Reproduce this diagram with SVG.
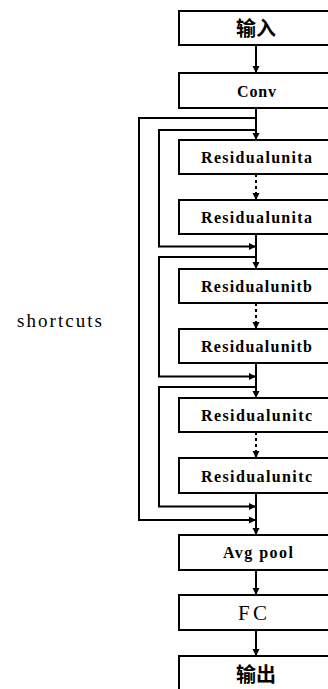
<svg xmlns="http://www.w3.org/2000/svg" width="328" height="689" viewBox="0 0 328 689">
  <style>
    .box { fill: #fff; stroke: #000; stroke-width: 2; }
    .wire { fill: none; stroke: #000; stroke-width: 2; }
    .dot { fill: none; stroke: #000; stroke-width: 2; stroke-dasharray: 3 3; }
    .cjk { font-family: "Noto Sans CJK SC", sans-serif; font-weight: bold; font-size: 20px; text-anchor: middle; }
    .lbl { font-family: "Liberation Serif", serif; font-weight: bold; font-size: 16px; }
    .big { font-family: "Liberation Serif", serif; font-size: 21px; }
    .note { font-family: "Liberation Serif", serif; font-size: 19px; }
  </style>
  <defs>
    <marker id="arr" markerUnits="userSpaceOnUse" markerWidth="8" markerHeight="8" refX="7" refY="4" orient="auto">
      <path d="M0,0.5 L7,4 L0,7.5 z" fill="#000"/>
    </marker>
  </defs>
  <rect width="328" height="689" fill="#fff"/>

  <g id="connectors">
    <line class="wire" x1="256" y1="45" x2="256" y2="73" marker-end="url(#arr)"/>
    <line class="wire" x1="256" y1="108" x2="256" y2="140" marker-end="url(#arr)"/>
    <!-- outer shortcut -->
    <polyline class="wire" points="256,118 139,118 139,520 256,520" marker-end="url(#arr)"/>
    <!-- stage a -->
    <polyline class="wire" points="256,130 159,130 159,246.5 256,246.5" marker-end="url(#arr)"/>
    <line class="dot" x1="256" y1="174" x2="256" y2="200" marker-end="url(#arr)"/>
    <line class="wire" x1="256" y1="234" x2="256" y2="269" marker-end="url(#arr)"/>
    <!-- stage b -->
    <polyline class="wire" points="256,257 159,257 159,376.5 256,376.5" marker-end="url(#arr)"/>
    <line class="dot" x1="256" y1="303" x2="256" y2="329" marker-end="url(#arr)"/>
    <line class="wire" x1="256" y1="363" x2="256" y2="398" marker-end="url(#arr)"/>
    <!-- stage c -->
    <polyline class="wire" points="256,387 159,387 159,506.5 256,506.5" marker-end="url(#arr)"/>
    <line class="dot" x1="256" y1="432" x2="256" y2="458" marker-end="url(#arr)"/>
    <line class="wire" x1="256" y1="493" x2="256" y2="535" marker-end="url(#arr)"/>
    <line class="wire" x1="256" y1="570" x2="256" y2="595" marker-end="url(#arr)"/>
    <line class="wire" x1="256" y1="630" x2="256" y2="656" marker-end="url(#arr)"/>
  </g>

  <g id="input">
    <rect class="box" x="179" y="11" width="160" height="34"/>
    <text class="cjk" x="256" y="35.5">输入</text>
  </g>
  <g id="conv">
    <rect class="box" x="179" y="73" width="160" height="35"/>
    <text class="lbl" x="237" y="97" textLength="39" lengthAdjust="spacing">Conv</text>
  </g>
  <g id="res-a1">
    <rect class="box" x="179" y="140" width="160" height="34"/>
    <text class="lbl" x="201" y="163" textLength="111" lengthAdjust="spacing">Residualunita</text>
  </g>
  <g id="res-a2">
    <rect class="box" x="179" y="200" width="160" height="34"/>
    <text class="lbl" x="201" y="223" textLength="111" lengthAdjust="spacing">Residualunita</text>
  </g>
  <g id="res-b1">
    <rect class="box" x="179" y="269" width="160" height="34"/>
    <text class="lbl" x="201" y="292" textLength="111" lengthAdjust="spacing">Residualunitb</text>
  </g>
  <g id="res-b2">
    <rect class="box" x="179" y="329" width="160" height="34"/>
    <text class="lbl" x="201" y="352" textLength="111" lengthAdjust="spacing">Residualunitb</text>
  </g>
  <g id="res-c1">
    <rect class="box" x="179" y="398" width="160" height="34"/>
    <text class="lbl" x="201" y="421" textLength="111" lengthAdjust="spacing">Residualunitc</text>
  </g>
  <g id="res-c2">
    <rect class="box" x="179" y="458" width="160" height="35"/>
    <text class="lbl" x="201" y="481.5" textLength="111" lengthAdjust="spacing">Residualunitc</text>
  </g>
  <g id="avgpool">
    <rect class="box" x="179" y="535" width="160" height="35"/>
    <text class="lbl" x="223" y="558" textLength="70" lengthAdjust="spacing">Avg pool</text>
  </g>
  <g id="fc">
    <rect class="box" x="179" y="595" width="160" height="35"/>
    <text class="big" x="238" y="620" textLength="29" lengthAdjust="spacing">FC</text>
  </g>
  <g id="output">
    <rect class="box" x="179" y="656" width="160" height="40"/>
    <text class="cjk" x="256" y="681.5">输出</text>
  </g>

  <text class="note" x="17" y="327" textLength="85" lengthAdjust="spacing">shortcuts</text>
</svg>
